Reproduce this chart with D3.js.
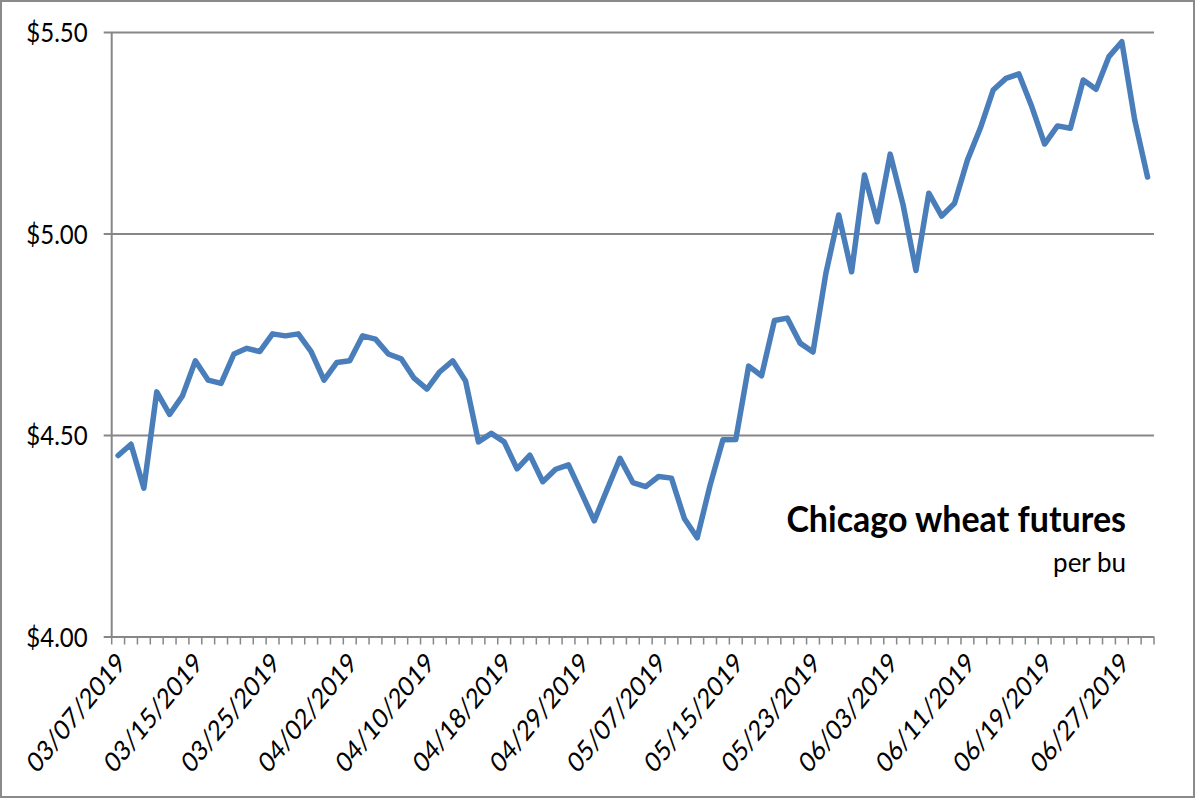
<!DOCTYPE html>
<html>
<head>
<meta charset="utf-8">
<script src="https://cdn.jsdelivr.net/npm/d3@7"></script>
<style>
  html, body { margin: 0; padding: 0; background: #fff; }
  svg { display: block; }
  text { font-family: Lato, "Open Sans", sans-serif; fill: #000; }
</style>
</head>
<body>
<svg id="chart" width="1200" height="800"></svg>
<script>
// Trading days (categories)
const dates = [
  "03/07/2019","03/08/2019","03/11/2019","03/12/2019","03/13/2019","03/14/2019","03/15/2019",
  "03/18/2019","03/19/2019","03/20/2019","03/21/2019","03/22/2019","03/25/2019","03/26/2019",
  "03/27/2019","03/28/2019","03/29/2019","04/01/2019","04/02/2019","04/03/2019","04/04/2019",
  "04/05/2019","04/08/2019","04/09/2019","04/10/2019","04/11/2019","04/12/2019","04/15/2019",
  "04/16/2019","04/17/2019","04/18/2019","04/22/2019","04/23/2019","04/24/2019","04/25/2019",
  "04/26/2019","04/29/2019","04/30/2019","05/01/2019","05/02/2019","05/03/2019","05/06/2019",
  "05/07/2019","05/08/2019","05/09/2019","05/10/2019","05/13/2019","05/14/2019","05/15/2019",
  "05/16/2019","05/17/2019","05/20/2019","05/21/2019","05/22/2019","05/23/2019","05/24/2019",
  "05/28/2019","05/29/2019","05/30/2019","05/31/2019","06/03/2019","06/04/2019","06/05/2019",
  "06/06/2019","06/07/2019","06/10/2019","06/11/2019","06/12/2019","06/13/2019","06/14/2019",
  "06/17/2019","06/18/2019","06/19/2019","06/20/2019","06/21/2019","06/24/2019","06/25/2019",
  "06/26/2019","06/27/2019","06/28/2019","07/01/2019"
];

// Price per bushel (USD)
const prices = [
  4.449, 4.477, 4.368, 4.607, 4.551, 4.597, 4.684, 4.636, 4.628, 4.701,
  4.715, 4.707, 4.751, 4.746, 4.751, 4.707, 4.636, 4.680, 4.684, 4.746,
  4.738, 4.701, 4.689, 4.641, 4.614, 4.657, 4.684, 4.634, 4.483, 4.504,
  4.483, 4.416, 4.450, 4.384, 4.415, 4.426, 4.357, 4.287, 4.365, 4.442,
  4.382, 4.372, 4.397, 4.393, 4.293, 4.245, 4.375, 4.488, 4.489, 4.671,
  4.647, 4.784, 4.790, 4.728, 4.706, 4.901, 5.046, 4.905, 5.145, 5.029,
  5.197, 5.071, 4.908, 5.100, 5.043, 5.075, 5.182, 5.261, 5.356, 5.385,
  5.396, 5.315, 5.222, 5.267, 5.261, 5.381, 5.358, 5.439, 5.476, 5.282,
  5.140
];

const yTicks = [4.00, 4.50, 5.00, 5.50];
const labelEvery = 6;
const titleText = "Chicago wheat futures";
const subtitleText = "per bu";

const svg = d3.select("#chart");
const plot = { left: 111.7, right: 1154, top: 32, bottom: 636.5 };
const gridColor = "#878787";

// Outer frame
svg.append("rect")
  .attr("x", 1).attr("y", 1).attr("width", 1193).attr("height", 796)
  .attr("fill", "#fff").attr("stroke", "#8a8a8a").attr("stroke-width", 2);

const x = d3.scaleBand().domain(d3.range(dates.length))
  .range([plot.left, plot.right]).paddingInner(0).paddingOuter(0);
const y = d3.scaleLinear().domain([4, 5.5]).range([plot.bottom, plot.top]);

// Horizontal gridlines + y axis
const yAxis = d3.axisLeft(y).tickValues(yTicks)
  .tickSize(-(plot.right - plot.left)).tickPadding(16)
  .tickFormat(d => "$" + d.toFixed(2));
const gy = svg.append("g").attr("transform", `translate(${plot.left},0)`).call(yAxis);
gy.select(".domain").remove();
gy.selectAll(".tick line")
  .attr("x1", -8).attr("stroke", gridColor).attr("stroke-width", 2);
gy.selectAll(".tick text")
  .attr("font-size", 24).attr("x", 0).attr("dy", "0.36em")
  .attr("transform", "translate(-24,0) scale(1,1.15)");

// vertical axis line
svg.append("line")
  .attr("x1", plot.left).attr("x2", plot.left)
  .attr("y1", plot.top).attr("y2", plot.bottom)
  .attr("stroke", gridColor).attr("stroke-width", 2);

// X axis: ticks between categories
const xTickPos = d3.range(dates.length + 1).map(i => plot.left + i * x.bandwidth());
svg.append("g").selectAll("line").data(xTickPos).join("line")
  .attr("x1", d => d).attr("x2", d => d)
  .attr("y1", plot.bottom).attr("y2", plot.bottom + 8)
  .attr("stroke", gridColor).attr("stroke-width", 1.5);

// X labels
const labelIdx = d3.range(0, dates.length, labelEvery);
svg.append("g").selectAll("text").data(labelIdx).join("text")
  .attr("transform", i => `translate(${x(i) + x.bandwidth() / 2 + 3},${plot.bottom + 21}) scale(1,1.22) rotate(-45)`)
  .attr("text-anchor", "end")
  .attr("dy", "0.35em")
  .attr("font-size", 23)
  .text(i => dates[i]);

// Line
const line = d3.line()
  .x((d, i) => x(i) + x.bandwidth() / 2)
  .y(d => y(d));
svg.append("path").datum(prices)
  .attr("d", line)
  .attr("fill", "none")
  .attr("stroke", "#4a7ebb")
  .attr("stroke-width", 5.5)
  .attr("stroke-linejoin", "round")
  .attr("stroke-linecap", "round");

// Title
svg.append("text").attr("x", 1126).attr("y", 532)
  .attr("text-anchor", "end").attr("font-size", 34).attr("font-weight", "bold")
  .attr("transform", "translate(0,532) scale(1,1.08) translate(0,-532)")
  .text(titleText);
svg.append("text").attr("x", 1126).attr("y", 572)
  .attr("text-anchor", "end").attr("font-size", 26)
  .text(subtitleText);
</script>
</body>
</html>
